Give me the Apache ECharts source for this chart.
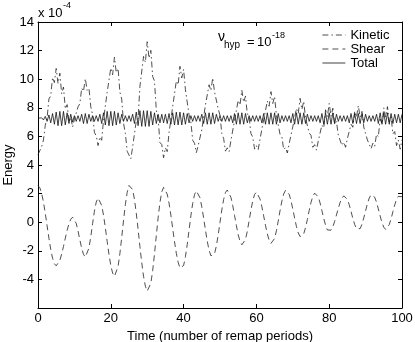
<!DOCTYPE html>
<html>
<head>
<meta charset="utf-8">
<script src="https://cdn.jsdelivr.net/npm/echarts@6/dist/echarts.min.js"></script>
<style>
html,body{margin:0;padding:0;background:#fff;}
#chart{width:415px;height:342px;}
</style>
</head>
<body>
<div id="chart"></div>
<script>
// ---- data (values in units of 1e-4), sampled every timeStep remap periods ----
const timeStep = 0.5;
const seriesNames = ['Kinetic', 'Shear', 'Total'];
const xTickValues = [0, 20, 40, 60, 80, 100];
const yTickValues = [-4, -2, 0, 2, 4, 6, 8, 10, 12, 14];

const kineticVals = [
  4.72, 4.82, 5.28, 5.75, 6.78, 7.30, 8.62, 8.85, 10.12, 9.76,
  10.75, 9.70, 10.42, 8.98, 9.45, 7.92, 8.22, 7.01, 7.34, 6.65,
  7.19, 7.13, 8.07, 8.29, 9.37, 9.15, 10.04, 9.22, 9.36, 8.07,
  7.54, 6.28, 6.04, 5.36, 5.96, 5.73, 7.16, 7.18, 9.09, 9.00,
  10.78, 10.31, 11.54, 10.46, 10.75, 9.09, 8.61, 6.91, 6.21, 4.96,
  4.88, 4.43, 5.27, 5.30, 7.07, 7.25, 9.50, 9.53, 11.59, 11.18,
  12.62, 11.47, 12.02, 10.19, 9.88, 7.84, 7.24, 5.57, 5.43, 4.51,
  5.20, 4.94, 6.27, 6.35, 8.08, 8.15, 9.88, 9.61, 10.90, 10.09,
  10.68, 9.27, 9.15, 7.50, 7.00, 5.73, 5.52, 4.86, 5.35, 5.34,
  6.47, 6.60, 8.20, 8.18, 9.61, 9.20, 10.09, 9.11, 9.21, 7.94,
  7.46, 6.19, 5.86, 4.97, 5.20, 4.93, 5.71, 5.79, 7.13, 7.09,
  8.52, 8.19, 9.23, 8.39, 8.81, 7.58, 7.35, 6.20, 5.95, 5.11,
  5.35, 5.07, 5.83, 5.87, 7.16, 7.08, 8.47, 8.11, 9.13, 8.30,
  8.79, 7.45, 7.52, 6.14, 5.97, 5.08, 5.22, 4.84, 5.50, 5.45,
  6.68, 6.56, 7.95, 7.60, 8.66, 7.88, 8.46, 7.28, 7.36, 6.24,
  6.07, 5.24, 5.42, 5.04, 5.68, 5.61, 6.79, 6.59, 7.86, 7.39,
  8.30, 7.41, 7.97, 6.84, 7.04, 6.08, 6.07, 5.37, 5.61, 5.24,
  5.85, 5.73, 6.85, 6.64, 7.76, 7.35, 8.15, 7.35, 7.75, 6.65,
  6.75, 5.75, 5.76, 5.14, 5.52, 5.30, 6.15, 5.97, 7.22, 6.88,
  8.00, 7.35, 8.08, 7.02, 7.36, 6.17, 6.34, 5.36, 5.74, 5.11,
  5.77
];

const shearVals = [
  2.55, 2.41, 2.02, 1.40, 0.62, -0.25, -1.12, -1.90, -2.52, -2.91,
  -3.05, -2.95, -2.67, -2.23, -1.70, -1.12, -0.57, -0.11, 0.21, 0.35,
  0.26, -0.08, -0.62, -1.24, -1.82, -2.25, -2.44, -2.32, -1.81, -1.02,
  -0.09, 0.77, 1.41, 1.69, 1.59, 1.17, 0.49, -0.38, -1.34, -2.25,
  -3.03, -3.56, -3.79, -3.66, -3.10, -2.19, -1.06, 0.14, 1.24, 2.09,
  2.57, 2.62, 2.28, 1.60, 0.63, -0.50, -1.70, -2.83, -3.79, -4.48,
  -4.82, -4.77, -4.27, -3.39, -2.23, -0.94, 0.31, 1.38, 2.12, 2.44,
  2.35, 1.96, 1.33, 0.50, -0.43, -1.35, -2.18, -2.81, -3.20, -3.29,
  -3.03, -2.42, -1.55, -0.55, 0.45, 1.32, 1.93, 2.19, 2.10, 1.71,
  1.08, 0.30, -0.55, -1.33, -1.96, -2.35, -2.44, -2.21, -1.66, -0.89,
  -0.01, 0.86, 1.59, 2.08, 2.25, 2.12, 1.74, 1.16, 0.47, -0.24,
  -0.87, -1.34, -1.58, -1.54, -1.21, -0.63, 0.10, 0.85, 1.50, 1.94,
  2.10, 1.98, 1.62, 1.08, 0.44, -0.23, -0.82, -1.26, -1.48, -1.45,
  -1.14, -0.60, 0.08, 0.81, 1.48, 1.97, 2.23, 2.21, 1.95, 1.50,
  0.92, 0.29, -0.30, -0.75, -1.01, -1.03, -0.81, -0.38, 0.19, 0.81,
  1.38, 1.81, 2.03, 2.01, 1.77, 1.34, 0.81, 0.26, -0.21, -0.54,
  -0.65, -0.56, -0.32, 0.06, 0.51, 0.97, 1.38, 1.68, 1.84, 1.81,
  1.60, 1.22, 0.75, 0.26, -0.16, -0.45, -0.55, -0.45, -0.15, 0.30,
  0.80, 1.30, 1.69, 1.91, 1.93, 1.75, 1.40, 0.93, 0.43, -0.03,
  -0.35, -0.50, -0.43, -0.17, 0.24, 0.73, 1.21, 1.59, 1.81, 1.84,
  1.78
];

const totalVals = [
  7.27, 7.23, 7.30, 7.15, 7.40, 7.05, 7.50, 6.95, 7.60, 6.85,
  7.70, 6.75, 7.75, 6.75, 7.75, 6.80, 7.65, 6.90, 7.55, 7.00,
  7.45, 7.05, 7.45, 7.05, 7.55, 6.90, 7.60, 6.90, 7.55, 7.05,
  7.45, 7.05, 7.45, 7.05, 7.55, 6.90, 7.65, 6.80, 7.75, 6.75,
  7.75, 6.75, 7.75, 6.80, 7.65, 6.90, 7.55, 7.05, 7.45, 7.05,
  7.45, 7.05, 7.55, 6.90, 7.70, 6.75, 7.80, 6.70, 7.80, 6.70,
  7.80, 6.70, 7.75, 6.80, 7.65, 6.90, 7.55, 6.95, 7.55, 6.95,
  7.55, 6.90, 7.60, 6.85, 7.65, 6.80, 7.70, 6.80, 7.70, 6.80,
  7.65, 6.85, 7.60, 6.95, 7.45, 7.05, 7.45, 7.05, 7.45, 7.05,
  7.55, 6.90, 7.65, 6.85, 7.65, 6.85, 7.65, 6.90, 7.55, 7.05,
  7.45, 7.05, 7.45, 7.05, 7.45, 7.05, 7.45, 6.95, 7.60, 6.85,
  7.65, 6.85, 7.65, 6.85, 7.60, 6.95, 7.45, 7.05, 7.45, 7.05,
  7.45, 7.05, 7.45, 6.95, 7.60, 6.85, 7.65, 6.85, 7.65, 6.85,
  7.65, 6.85, 7.60, 6.95, 7.45, 7.05, 7.45, 7.05, 7.45, 6.95,
  7.60, 6.85, 7.65, 6.85, 7.65, 6.85, 7.65, 6.90, 7.55, 7.05,
  7.45, 7.05, 7.45, 7.05, 7.45, 6.95, 7.60, 6.85, 7.65, 6.85,
  7.65, 6.85, 7.65, 6.90, 7.55, 7.05, 7.45, 7.05, 7.45, 7.05,
  7.45, 6.95, 7.60, 6.90, 7.60, 6.90, 7.60, 6.90, 7.60, 6.95,
  7.55, 7.05, 7.45, 7.05, 7.45, 7.05, 7.55, 6.90, 7.65, 6.85,
  7.65, 6.85, 7.65, 6.85, 7.60, 6.90, 7.55, 6.95, 7.55, 6.95,
  7.55
];

// ---- rendering ----
function toPairs(vals) { return vals.map((v, i) => [i * timeStep, v]); }

const FONT = '"Liberation Sans", Arial, Helvetica, sans-serif';
const INK = '#000';
const FS = 13;
const axisLine = { show: true, onZero: false, lineStyle: { color: INK, width: 1 } };
const axisTick = { show: true, inside: true, length: 4, lineStyle: { color: INK, width: 1 } };

const chart = echarts.init(document.getElementById('chart'), null, { renderer: 'canvas' });

const option = {
  animation: false,
  backgroundColor: '#fff',
  color: ['#111', '#111', '#111'],
  textStyle: { fontFamily: FONT, color: INK },
  grid: { left: 38, right: 13, top: 22, bottom: 34, containLabel: false, outerBoundsMode: 'none' },
  xAxis: [
    {
      type: 'value', min: 0, max: 100, interval: 20, position: 'bottom',
      axisLine: axisLine, axisTick: axisTick, splitLine: { show: false },
      axisLabel: { color: INK, fontSize: FS, margin: 4, fontFamily: FONT,
        formatter: v => (xTickValues.indexOf(v) >= 0 ? String(v) : '') },
      name: 'Time (number of remap periods)', nameLocation: 'middle', nameGap: 20,
      nameTextStyle: { color: INK, fontSize: FS, fontFamily: FONT }
    },
    {
      type: 'value', min: 0, max: 100, interval: 20, position: 'top',
      axisLine: axisLine, axisTick: axisTick, splitLine: { show: false },
      axisLabel: { show: false }
    }
  ],
  yAxis: [
    {
      type: 'value', min: -6, max: 14, interval: 2, position: 'left',
      axisLine: axisLine, axisTick: axisTick, splitLine: { show: false },
      axisLabel: { color: INK, fontSize: FS, margin: 4, fontFamily: FONT,
        formatter: v => (yTickValues.indexOf(v) >= 0 ? String(v) : '') },
      name: 'Energy', nameLocation: 'middle', nameGap: 23, nameRotate: 90,
      nameMoveOverlap: false,
      nameTextStyle: { color: INK, fontSize: FS, fontFamily: FONT }
    },
    {
      type: 'value', min: -6, max: 14, interval: 2, position: 'right',
      axisLine: axisLine, axisTick: axisTick, splitLine: { show: false },
      axisLabel: { show: false }
    }
  ],
  legend: {
    orient: 'vertical', left: 322, top: 28, padding: 0,
    itemWidth: 23, itemHeight: 10, itemGap: 0,
    data: seriesNames,
    itemStyle: { opacity: 0 },
    lineStyle: { width: 0.8 },
    textStyle: { color: INK, fontSize: FS, lineHeight: 14, fontFamily: FONT }
  },
  graphic: [
    { type: 'text', left: 38, top: 7, style: { text: 'x 10', font: FS + 'px ' + FONT, fill: INK } },
    { type: 'text', left: 63, top: 1, style: { text: '-4', font: '9px ' + FONT, fill: INK } },
    { type: 'text', left: 218, top: 30, style: { text: 'ν', font: '14px ' + FONT, fill: INK } },
    { type: 'text', left: 224, top: 40, style: { text: 'hyp', font: '10px ' + FONT, fill: INK } },
    { type: 'text', left: 247, top: 36, style: { text: '=', font: FS + 'px ' + FONT, fill: INK } },
    { type: 'text', left: 257, top: 36, style: { text: '10', font: FS + 'px ' + FONT, fill: INK } },
    { type: 'text', left: 272, top: 31, style: { text: '-18', font: '9px ' + FONT, fill: INK } }
  ],
  series: [
    {
      name: 'Kinetic', type: 'line', data: toPairs(kineticVals), showSymbol: false, symbol: 'none',
      xAxisIndex: 0, yAxisIndex: 0, z: 3,
      lineStyle: { color: '#222', width: 0.8, type: [6, 3, 1.5, 3] }
    },
    {
      name: 'Shear', type: 'line', data: toPairs(shearVals), showSymbol: false, symbol: 'none',
      xAxisIndex: 0, yAxisIndex: 0, z: 3,
      lineStyle: { color: '#222', width: 0.8, type: [6, 4] }
    },
    {
      name: 'Total', type: 'line', data: toPairs(totalVals), showSymbol: false, symbol: 'none',
      xAxisIndex: 0, yAxisIndex: 0, z: 4,
      lineStyle: { color: '#111', width: 0.8, type: 'solid' }
    }
  ]
};

chart.setOption(option);
</script>
</body>
</html>
